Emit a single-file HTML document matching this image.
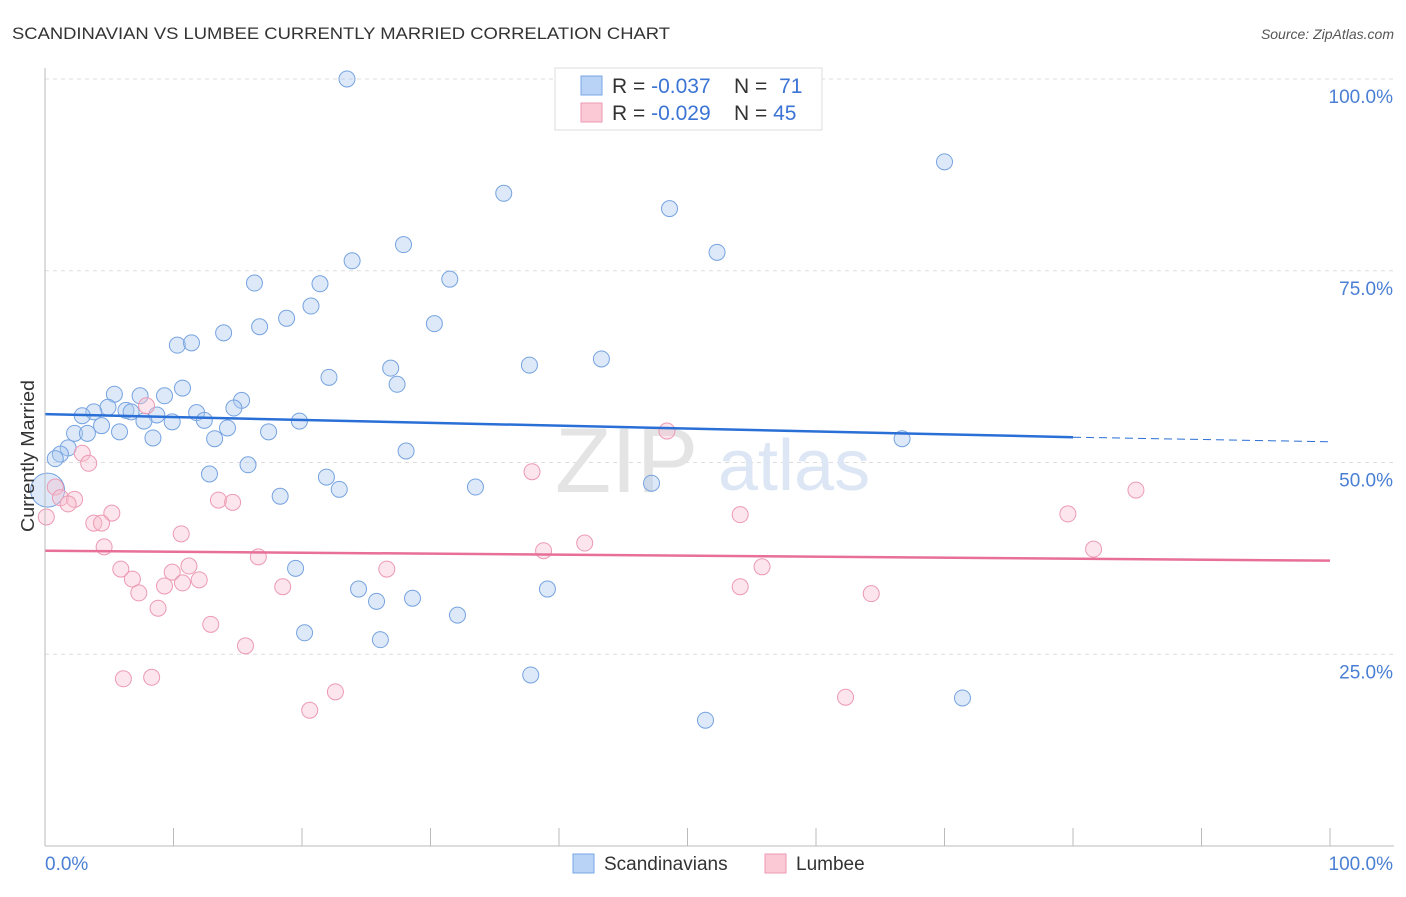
<!DOCTYPE html>
<html><head><meta charset="utf-8"><style>
body{margin:0;background:#fff;font-family:"Liberation Sans",sans-serif;}
svg text{font-family:"Liberation Sans",sans-serif;}
</style></head><body>
<svg id="chart" width="1406" height="892" viewBox="0 0 1406 892">
<text x="12" y="39" font-size="17" fill="#333" textLength="658" lengthAdjust="spacingAndGlyphs">SCANDINAVIAN VS LUMBEE CURRENTLY MARRIED CORRELATION CHART</text>
<text x="1394" y="39" font-size="14" fill="#555" font-style="italic" text-anchor="end">Source: ZipAtlas.com</text>
<g id="grid"></g>
<text x="555" y="492" font-size="92" fill="#e4e4e4" font-family="Liberation Serif">ZIP</text>
<text x="718" y="490" font-size="72" fill="#dce6f4">atlas</text>
<g id="marks"></g>
<g id="axes"></g>
<text x="34" y="456" font-size="18" fill="#333" text-anchor="middle" textLength="152" lengthAdjust="spacingAndGlyphs" transform="rotate(-90 34 456)">Currently Married</text>
<g>
<rect x="555" y="68" width="267" height="62" fill="#fff" stroke="#ddd"/>
<rect x="581" y="76" width="21" height="19" fill="#b8d3f5" stroke="#7aa6e6"/>
<rect x="581" y="103" width="21" height="19" fill="#fbc8d6" stroke="#ee9ab2"/>
<text x="612" y="93" font-size="21" fill="#333">R = <tspan fill="#3b74d4">-0.037</tspan></text>
<text x="734" y="93" font-size="21" fill="#333">N = <tspan fill="#3b74d4" dx="6">71</tspan></text>
<text x="612" y="120" font-size="21" fill="#333">R = <tspan fill="#3b74d4">-0.029</tspan></text>
<text x="734" y="120" font-size="21" fill="#333">N = <tspan fill="#3b74d4">45</tspan></text>
</g>
<g>
<rect x="573" y="854" width="21" height="19" fill="#b8d3f5" stroke="#7aa6e6"/>
<text x="604" y="870" font-size="19" fill="#333">Scandinavians</text>
<rect x="765" y="854" width="21" height="19" fill="#fbc8d6" stroke="#ee9ab2"/>
<text x="796" y="870" font-size="19" fill="#333">Lumbee</text>
</g>
</svg>
<script>
const yTicks=[25,50,75,100];
const yTickLabels=["25.0%","50.0%","75.0%","100.0%"];
const blueX=[23.5,70.0,35.7,48.6,27.9,52.3,23.9,16.3,21.4,31.5,20.7,18.8,16.7,30.3,13.9,10.3,11.4,26.9,37.7,43.3,22.1,27.4,10.7,5.4,7.4,9.3,15.3,14.7,4.9,3.8,6.3,6.7,2.9,8.7,11.8,7.7,9.9,12.4,19.8,14.2,4.4,2.3,3.3,5.8,8.4,13.2,17.4,66.7,1.8,1.2,0.8,28.1,15.8,12.8,21.9,22.9,33.5,47.2,18.3,0.2,19.5,24.4,25.8,28.6,39.1,32.1,20.2,26.1,37.8,71.4,51.4];
const blueY=[100,89.2,85.1,83.1,78.4,77.4,76.3,73.4,73.3,73.9,70.4,68.8,67.7,68.1,66.9,65.3,65.6,62.3,62.7,63.5,61.1,60.2,59.7,58.9,58.7,58.7,58.1,57.1,57.2,56.6,56.8,56.6,56.1,56.2,56.5,55.4,55.3,55.5,55.4,54.5,54.8,53.8,53.8,54.0,53.2,53.1,54.0,53.1,51.9,51.1,50.5,51.5,49.7,48.5,48.1,46.5,46.8,47.3,45.6,46.4,36.2,33.5,31.9,32.3,33.5,30.1,27.8,26.9,22.3,19.3,16.4];
const pinkX=[7.9,2.9,3.4,48.4,37.9,0.8,1.2,2.3,1.8,0.1,5.2,3.8,4.4,13.5,14.6,54.1,79.6,84.9,10.6,4.6,38.8,42.0,16.6,81.6,5.9,9.9,11.2,26.6,55.8,6.8,12.0,9.3,10.7,7.3,18.5,54.1,64.3,8.8,12.9,15.6,6.1,8.3,22.6,20.6,62.3];
const pinkY=[57.4,51.2,49.9,54.1,48.8,46.8,45.4,45.2,44.6,42.9,43.4,42.1,42.1,45.1,44.8,43.2,43.3,46.4,40.7,39.0,38.5,39.5,37.7,38.7,36.1,35.7,36.5,36.1,36.4,34.8,34.7,33.9,34.3,33.0,33.8,33.8,32.9,31.0,28.9,26.1,21.8,22.0,20.1,17.7,19.4];
const blueTrend=[56.3,53.3,52.7];
const pinkTrend=[38.5,37.2];
const NS='http://www.w3.org/2000/svg';
const X0=45,X1=1330,YB=846,YT=79;
function sx(v){return X0+(X1-X0)*v/100;}
function sy(v){return YB-(YB-YT)*v/100;}
function mk(tag,attrs,parent){const e=document.createElementNS(NS,tag);for(const k in attrs)e.setAttribute(k,attrs[k]);parent.appendChild(e);return e;}
const grid=document.getElementById('grid'),marks=document.getElementById('marks'),axes=document.getElementById('axes');
yTicks.forEach((t,i)=>{
 const l=mk('line',{x1:X0,x2:1394,y1:sy(t),y2:sy(t),stroke:'#ddd','stroke-dasharray':'4,4'},grid);
 
 
 const tx=mk('text',{x:1393,y:sy(t)+24,'font-size':19,fill:'#4a7fd4','text-anchor':'end'},axes);
 tx.textContent=yTickLabels[i];
 
 
});
const ax=mk('line',{x1:X0,x2:X0,y1:68,y2:YB,stroke:'#bbb'},axes);


const bx=mk('line',{x1:X0,x2:1394,y1:YB,y2:YB,stroke:'#bbb'},axes);


for(let i=1;i<=10;i++){const t=mk('line',{x1:sx(i*10),x2:sx(i*10),y1:828,y2:YB,stroke:'#bbb'},axes);
 
 }
const xl=mk('text',{x:45,y:870,'font-size':19,fill:'#4a7fd4'},axes);xl.textContent='0.0%';


const xr=mk('text',{x:1393,y:870,'font-size':19,fill:'#4a7fd4','text-anchor':'end'},axes);xr.textContent='100.0%';


blueX.forEach((v,i)=>{const c=mk('circle',{cx:sx(v),cy:sy(blueY[i]),r:(i==59?17:8),fill:'rgba(170,200,240,0.4)',stroke:'#76a3e0','stroke-width':1},marks);
 
 });
pinkX.forEach((v,i)=>{const c=mk('circle',{cx:sx(v),cy:sy(pinkY[i]),r:8,fill:'rgba(248,190,208,0.4)',stroke:'#ec9ab3','stroke-width':1},marks);
 
 });
const bt=mk('line',{x1:sx(0),y1:sy(blueTrend[0]),x2:sx(80),y2:sy(blueTrend[1]),stroke:'#2a6fd6','stroke-width':2.5},marks);


const bd=mk('line',{x1:sx(80),y1:sy(blueTrend[1]),x2:sx(100),y2:sy(blueTrend[2]),stroke:'#2a6fd6','stroke-width':1,'stroke-dasharray':'8,5'},marks);


const pt=mk('line',{x1:sx(0),y1:sy(pinkTrend[0]),x2:sx(100),y2:sy(pinkTrend[1]),stroke:'#e76f98','stroke-width':2.5},marks);


</script>
</body></html>
